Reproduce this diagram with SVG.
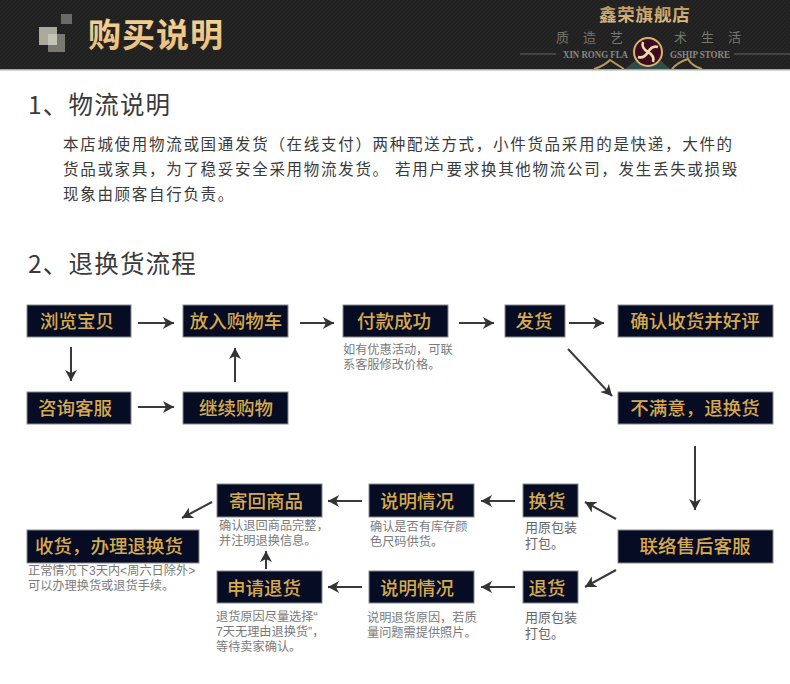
<svg xmlns="http://www.w3.org/2000/svg" width="790" height="684" viewBox="0 0 790 684">
<style>
.cjk{font-family:"Noto Sans CJK SC","Noto Sans",sans-serif}
.box{fill:#050c24;stroke:#8a8a8a;stroke-width:1}
.lb{font-family:"Noto Sans CJK SC",sans-serif;font-size:18.5px;fill:#d8aa4c;text-anchor:middle;font-weight:500}
.sub{font-family:"Liberation Sans","Noto Sans CJK SC",sans-serif;font-size:12.2px;fill:#7a7a7a}
.sub2{font-family:"Liberation Sans","Noto Sans CJK SC",sans-serif;font-size:13px;fill:#666}
.h{font-family:"Noto Sans CJK SC",sans-serif;font-size:24.5px;fill:#3a3a3a;letter-spacing:1.2px}
.p{font-family:"Noto Sans CJK SC",sans-serif;font-size:15.5px;fill:#3a3a3a;letter-spacing:1.7px}
.a{fill:none;stroke:#3a3a3a;stroke-width:2;marker-end:url(#ah)}
.g{font-family:"Noto Sans CJK SC",sans-serif;font-size:13px;fill:#77766f}
.en{font-family:"Liberation Serif",serif;font-size:10px;fill:#8a8a84;font-weight:bold}
</style>
<defs>
<marker id="ah" markerUnits="userSpaceOnUse" markerWidth="14" markerHeight="14" refX="11" refY="6" orient="auto"><path d="M0 0L11 6L0 12L3 6Z" fill="#333"/></marker>
<pattern id="tx" width="4" height="4" patternUnits="userSpaceOnUse"><rect width="4" height="4" fill="#212121"/><path d="M0 4L4 0" stroke="#272727" stroke-width="1"/></pattern>
<linearGradient id="tg" x1="0" y1="0" x2="0" y2="1"><stop offset="0" stop-color="#f6d79c"/><stop offset="1" stop-color="#e6bb78"/></linearGradient>
<linearGradient id="lg" x1="0" y1="0" x2="0" y2="1"><stop offset="0" stop-color="#b98a4e"/><stop offset="1" stop-color="#e0c48c"/></linearGradient>
</defs>
<rect width="790" height="684" fill="#fff"/>
<g id="header">
<rect width="790" height="69" fill="url(#tx)"/>
<rect y="69" width="790" height="1.5" fill="#aaa"/>
<rect x="61" y="14" width="11" height="10" fill="#6a6a64"/>
<rect x="39" y="27" width="18" height="18" fill="#a9a99c"/>
<rect x="48" y="34" width="17" height="18" fill="#83837a" fill-opacity=".9"/>
<rect x="48" y="34" width="9" height="11" fill="#c4c4b4"/>
<text x="88" y="47" class="cjk" font-size="33" font-weight="700" fill="url(#tg)" letter-spacing="1">购买说明</text>
<text x="599" y="21" class="cjk" font-size="17.5" font-weight="700" fill="url(#lg)" letter-spacing=".8">鑫荣旗舰店</text>
<text x="556" y="42" class="g" letter-spacing="14">质造艺</text>
<text x="674" y="42" class="g" letter-spacing="14">术生活</text>
<path d="M520 54H556M734 54H790" stroke="#66665f" stroke-width="1"/>
<text x="563" y="57.500" class="en" textLength="65" lengthAdjust="spacingAndGlyphs">XIN RONG FLA</text>
<text x="670" y="57.500" class="en" textLength="60" lengthAdjust="spacingAndGlyphs">GSHIP STORE</text>
<path d="M625 69L636 60H660L670 69Z" fill="#2f4c4a"/>
<path d="M594 69Q604 66 610 60Q616 64 624 69M672 69Q678 62 688 59Q692 66 702 69" fill="none" stroke="#b59a5a" stroke-width="2"/>
<circle cx="648" cy="52" r="14" fill="#3d0a22" stroke="#d8b56a" stroke-width="2"/>
<path d="M648 52Q641 48 643 42M648 52Q652 45 658 47M648 52Q655 56 653 62M648 52Q644 59 638 57" fill="none" stroke="#ecd9a8" stroke-width="2.600"/>
</g>
<g id="intro">
<text x="28" y="114" class="h">1、物流说明</text>
<text x="63" y="150" class="p">本店城使用物流或国通发货（在线支付）两种配送方式，小件货品采用的是快递，大件的</text>
<text x="63" y="175" class="p">货品或家具，为了稳妥安全采用物流发货。 若用户要求换其他物流公司，发生丢失或损毁</text>
<text x="63" y="200" class="p">现象由顾客自行负责。</text>
<text x="28" y="273" class="h">2、退换货流程</text>
</g>
<g id="connectors">
<path class="a" d="M138 323H174"/>
<path class="a" d="M300 323H334"/>
<path class="a" d="M459 323H494"/>
<path class="a" d="M569 323H604"/>
<path class="a" d="M71 347V381"/>
<path class="a" d="M235 382V348"/>
<path class="a" d="M138 407H174"/>
<path class="a" d="M568 349L612 396"/>
<path class="a" d="M695 446V510"/>
<path class="a" d="M616 519L585 502"/>
<path class="a" d="M616 570L585 587"/>
<path class="a" d="M515 501H481"/>
<path class="a" d="M515 587H481"/>
<path class="a" d="M362 501H328"/>
<path class="a" d="M362 587H328"/>
<path class="a" d="M266 569V551"/>
<path class="a" d="M212 502L182 518"/>
</g>
<g id="n1"><rect class="box" x="27" y="305" width="104" height="32"/><text class="lb" x="77" y="328">浏览宝贝</text></g>
<g id="n2"><rect class="box" x="183" y="305" width="105" height="32"/><text class="lb" x="236" y="328">放入购物车</text></g>
<g id="n3"><rect class="box" x="343" y="305" width="105" height="32"/><text class="lb" x="394" y="328">付款成功</text><text class="sub" x="343" y="354">如有优惠活动，可联<tspan x="343" dy="15">系客服修改价格。</tspan></text></g>
<g id="n4"><rect class="box" x="505" y="305" width="60" height="32"/><text class="lb" x="534" y="328">发货</text></g>
<g id="n5"><rect class="box" x="618" y="305" width="155" height="32"/><text class="lb" x="695" y="328">确认收货并好评</text></g>
<g id="n6"><rect class="box" x="27" y="392" width="104" height="32"/><text class="lb" x="75" y="415">咨询客服</text></g>
<g id="n7"><rect class="box" x="183" y="392" width="105" height="32"/><text class="lb" x="236" y="415">继续购物</text></g>
<g id="n8"><rect class="box" x="618" y="392" width="155" height="32"/><text class="lb" x="695" y="415">不满意，退换货</text></g>
<g id="n9"><rect class="box" x="618" y="530" width="155" height="33"/><text class="lb" x="695" y="553">联络售后客服</text></g>
<g id="n10"><rect class="box" x="523" y="484" width="55" height="33"/><text class="lb" x="547" y="508">换货</text><text class="sub2" x="525" y="532">用原包装<tspan x="525" dy="16">打包。</tspan></text></g>
<g id="n11"><rect class="box" x="523" y="571" width="55" height="32"/><text class="lb" x="547" y="595">退货</text><text class="sub2" x="525" y="622">用原包装<tspan x="525" dy="16">打包。</tspan></text></g>
<g id="n12"><rect class="box" x="369" y="484" width="105" height="33"/><text class="lb" x="417" y="508">说明情况</text><text class="sub" x="370" y="531">确认是否有库存颜<tspan x="370" dy="15">色尺码供货。</tspan></text></g>
<g id="n13"><rect class="box" x="369" y="571" width="105" height="32"/><text class="lb" x="417" y="595">说明情况</text><text class="sub" x="367" y="622">说明退货原因，若质<tspan x="367" dy="15">量问题需提供照片。</tspan></text></g>
<g id="n14"><rect class="box" x="217" y="484" width="105" height="33"/><text class="lb" x="266" y="508">寄回商品</text><text class="sub" x="219" y="530">确认退回商品完整，<tspan x="219" dy="15">并注明退换信息。</tspan></text></g>
<g id="n15"><rect class="box" x="217" y="571" width="105" height="32"/><text class="lb" x="264" y="595">申请退货</text><text class="sub" x="216" y="621">退货原因尽量选择“<tspan x="216" dy="15">7天无理由退换货”，</tspan><tspan x="216" dy="15">等待卖家确认。</tspan></text></g>
<g id="n16"><rect class="box" x="27" y="530" width="172" height="33"/><text class="lb" x="109" y="553">收货，办理退换货</text><text class="sub" x="28" y="575">正常情况下3天内&lt;周六日除外&gt;<tspan x="28" dy="15">可以办理换货或退货手续。</tspan></text></g>
</svg>
